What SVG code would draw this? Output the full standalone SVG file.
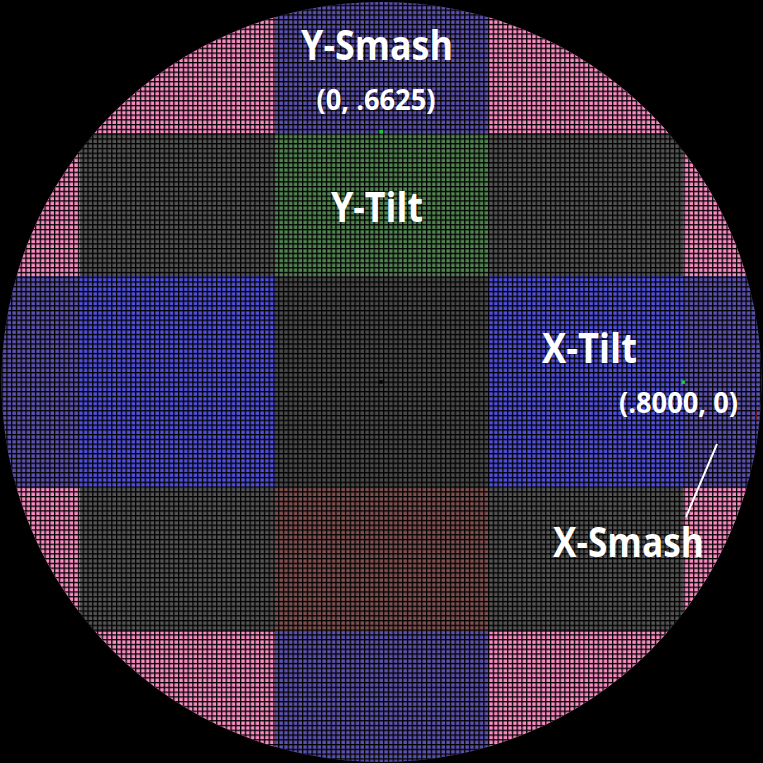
<svg xmlns="http://www.w3.org/2000/svg" width="763" height="763" viewBox="0 0 763 763">
<style>
.pink{fill:#fa8cc4}
.smash{fill:#5c52ae}
.tilt{fill:#5050dc}
.gray{fill:#545454}
.green{fill:#528452}
.center{fill:#4a4a4a}
.brown{fill:#7e5050}
.lbl{font-family:"Open Sans","DejaVu Sans",sans-serif;font-weight:bold;fill:#ffffff}
.big{font-size:41px}
.small{font-size:29px}
.conn{stroke:#ffffff;stroke-width:2;fill:none}
</style>
<defs>
<pattern id="grid" patternUnits="userSpaceOnUse" x="378.28" y="128.78" width="4.769" height="4.769">
<rect x="0" y="0" width="1.3" height="4.769" fill="#000"/>
<rect x="0" y="0" width="4.769" height="1.3" fill="#000"/>
</pattern>
<clipPath id="disc"><circle cx="381.5" cy="382" r="380"/></clipPath>
</defs>
<rect width="763" height="763" fill="#000"/>
<g clip-path="url(#disc)">
<g id="corners">
<rect class="pink" x="0" y="0" width="275" height="133"/>
<rect class="pink" x="488" y="0" width="275" height="133"/>
<rect class="pink" x="0" y="133" width="80" height="143"/>
<rect class="pink" x="683" y="133" width="80" height="143"/>
<rect class="pink" x="0" y="488" width="80" height="144"/>
<rect class="pink" x="683" y="488" width="80" height="144"/>
<rect class="pink" x="0" y="632" width="275" height="131"/>
<rect class="pink" x="488" y="632" width="275" height="131"/>
<rect class="gray" x="80" y="133" width="195" height="143"/>
<rect class="gray" x="488" y="133" width="195" height="143"/>
<rect class="gray" x="80" y="488" width="195" height="144"/>
<rect class="gray" x="488" y="488" width="195" height="144"/>
<rect class="smash" x="0" y="276" width="80" height="212"/>
<rect class="smash" x="275" y="632" width="213" height="131"/>
<rect class="brown" x="275" y="488" width="213" height="144"/>
<rect class="center" x="275" y="276" width="213" height="212"/>
</g>
<g id="y-smash-region"><rect class="smash" x="275" y="0" width="213" height="133"/></g>
<g id="y-tilt-region"><rect class="green" x="275" y="133" width="213" height="143"/></g>
<g id="x-tilt-region">
<rect class="tilt" x="80" y="276" width="195" height="212"/>
<rect class="tilt" x="488" y="276" width="195" height="212"/>
</g>
<g id="x-smash-region"><rect class="smash" x="683" y="276" width="80" height="212"/></g>
<rect x="0" y="0" width="763" height="763" fill="url(#grid)"/>
<rect x="379.5" y="129.9" width="3.6" height="3.6" fill="#1ec832"/>
<rect x="681.3" y="380.4" width="3.6" height="3.6" fill="#1ec832"/>
<rect x="379.3" y="380.2" width="3.4" height="3.4" fill="#000"/>
<rect x="755.5" y="412" width="1.6" height="8" fill="#7a1010"/>
</g>
<g id="y-smash">
<text class="lbl big" x="377" y="60" text-anchor="middle" textLength="152" lengthAdjust="spacingAndGlyphs" style="font-size:42px">Y-Smash</text>
<text class="lbl small" x="376" y="110" text-anchor="middle" textLength="119" lengthAdjust="spacingAndGlyphs">(0, .6625)</text>
</g>
<g id="y-tilt">
<text class="lbl big" x="377" y="222" text-anchor="middle" textLength="92" lengthAdjust="spacingAndGlyphs">Y-Tilt</text>
</g>
<g id="x-tilt">
<text class="lbl big" x="589.5" y="363" text-anchor="middle" textLength="95" lengthAdjust="spacingAndGlyphs">X-Tilt</text>
<text class="lbl small" x="678.5" y="413" text-anchor="middle" textLength="119" lengthAdjust="spacingAndGlyphs">(.8000, 0)</text>
</g>
<g id="x-smash">
<text class="lbl big" x="628.5" y="557" text-anchor="middle" textLength="151" lengthAdjust="spacingAndGlyphs">X-Smash</text>
</g>
<g id="connectors">
<line class="conn" x1="717" y1="444" x2="686" y2="517"/>
</g>
</svg>
